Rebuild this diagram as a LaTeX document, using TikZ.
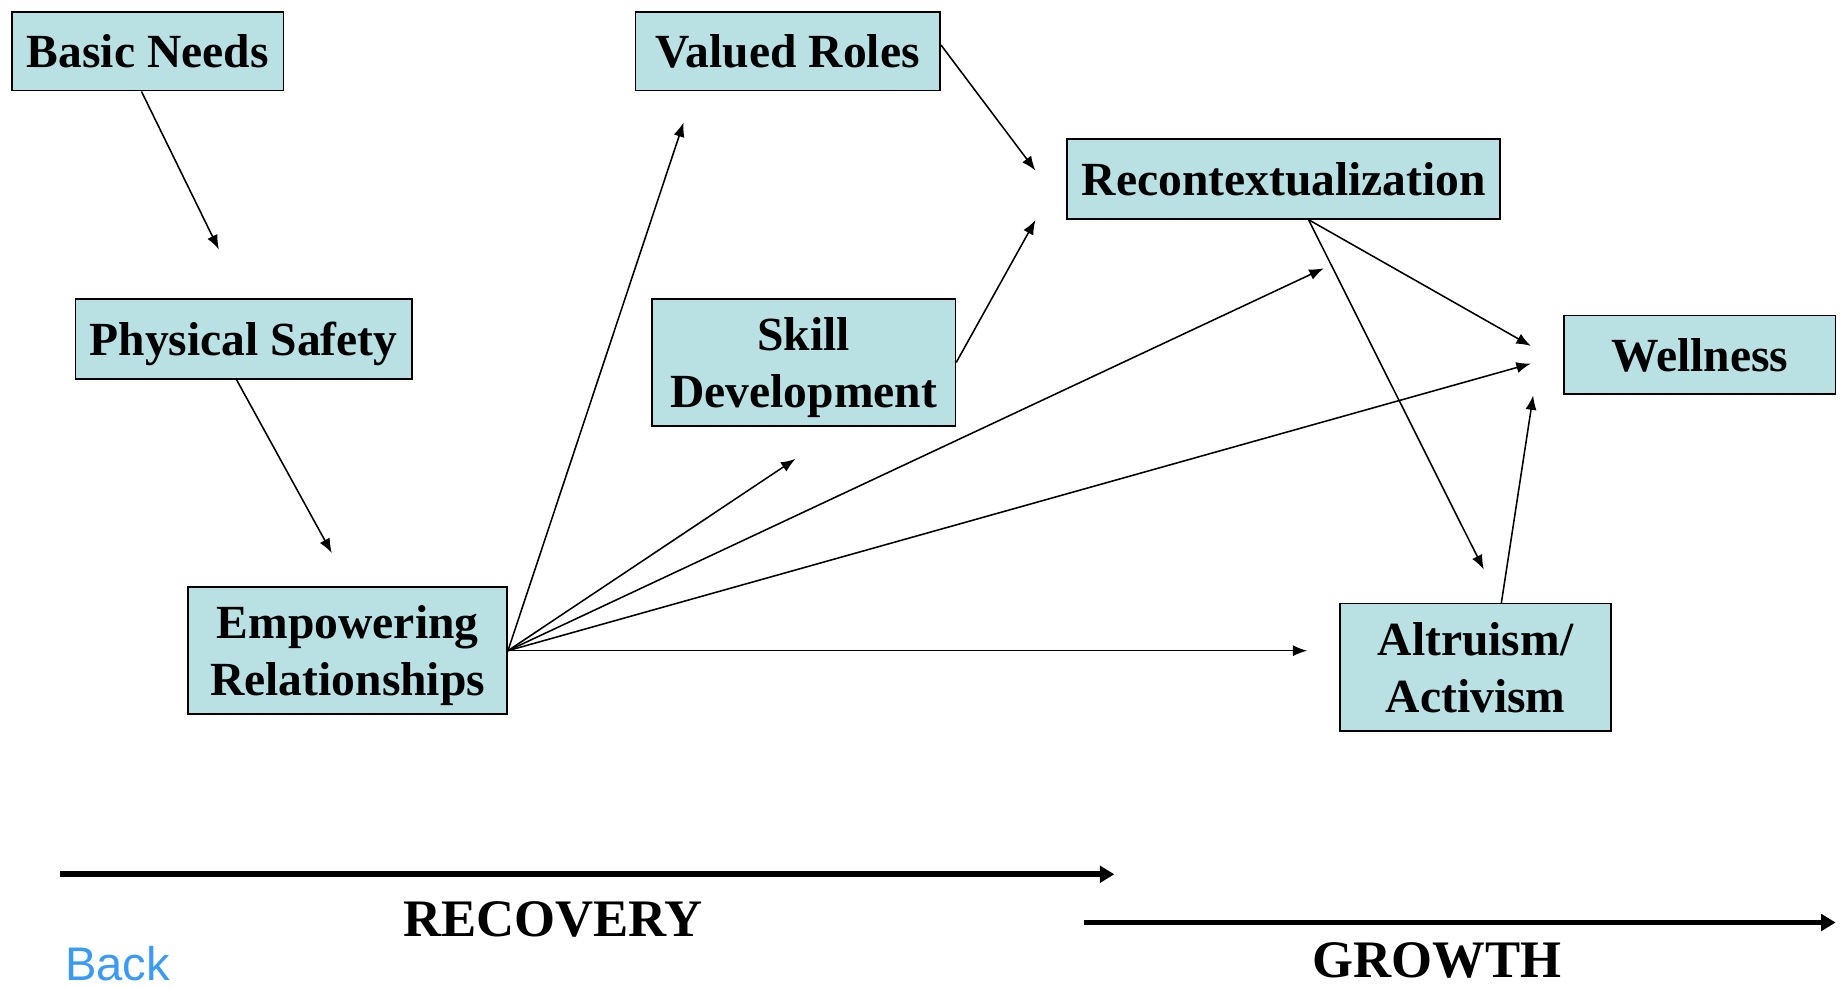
\documentclass[tikz,border=0pt]{standalone}
\usepackage{fontspec}
\setmainfont{Liberation Serif}
\setsansfont{Liberation Sans}
\usetikzlibrary{arrows.meta}
\definecolor{boxfill}{HTML}{B9E0E3}
\definecolor{linkblue}{HTML}{3A9AF5}
\tikzset{
  stage/.style={draw, line width=0.8pt, fill=boxfill, inner sep=0pt, align=center,
    text depth=0pt, font=\fontsize{23}{27.6}\selectfont\bfseries},
  link/.style={-{Latex[length=7pt,width=5.4pt]}, line width=0.75pt},
  phase/.style={-{Triangle[length=7pt,width=8pt]}, line width=2.8pt},
  phaselabel/.style={anchor=base, inner sep=0pt, font=\fontsize{25.5}{30}\selectfont\bfseries},
}
\begin{document}
\begin{tikzpicture}[x=0.02cm,y=-0.02cm]
\useasboundingbox (0,0) rectangle (1568,839);

% boxes
\node[stage, minimum width=4.62cm, minimum height=1.34cm] (needs) at (125.5,43.5) {Basic Needs};
\node[stage, minimum width=5.72cm, minimum height=1.36cm] (safety) at (207,288) {Physical Safety};
\node[stage, minimum width=5.42cm, minimum height=2.16cm] (empower) at (295.5,553) {Empowering\\Relationships};
\node[stage, minimum width=5.18cm, minimum height=1.34cm] (roles) at (669.5,43.5) {Valued Roles};
\node[stage, minimum width=5.16cm, minimum height=2.16cm] (skill) at (683,308) {Skill\\Development};
\node[stage, minimum width=7.36cm, minimum height=1.36cm] (recontext) at (1091,152) {Recontextualization};
\node[stage, minimum width=4.62cm, minimum height=1.34cm] (wellness) at (1444.5,301.5) {Wellness};
\node[stage, minimum width=4.60cm, minimum height=2.16cm] (altruism) at (1254,567) {Altruism/\\Activism};

% arrow tips
\coordinate (safety tip) at (186,212);
\coordinate (empower tip) at (282,470);
\coordinate (roles tip) at (581,104);
\coordinate (skill tip) at (676,390);
\coordinate (recontext tip a) at (880,145);
\coordinate (recontext tip b) at (880,187);
\coordinate (recontext tip c) at (1125,228);
\coordinate (wellness tip a) at (1301,294);
\coordinate (wellness tip b) at (1301,309);
\coordinate (wellness tip c) at (1303,336);
\coordinate (altruism tip a) at (1261,484);
\coordinate (altruism tip b) at (1111,553);

% links
\draw[link] ([xshift=-3pt]needs.south) -- (safety tip);
\draw[link] ([xshift=-3.4pt]safety.south) -- (empower tip);
\draw[link] (empower.east) -- (roles tip);
\draw[link] (empower.east) -- (skill tip);
\draw[link] (empower.east) -- (recontext tip c);
\draw[link] (empower.east) -- (wellness tip b);
\draw[link] (empower.east) -- (altruism tip b);
\draw[link] ([yshift=3pt]roles.east) -- (recontext tip a);
\draw[link] (skill.east) -- (recontext tip b);
\draw[link] ([xshift=12pt]recontext.south) -- (wellness tip a);
\draw[link] ([xshift=12pt]recontext.south) -- (altruism tip a);
\draw[link] ([xshift=12.5pt]altruism.north) -- (wellness tip c);

% phases
\coordinate (recovery start) at (51,743);
\coordinate (recovery end) at (947,743);
\coordinate (growth start) at (921,784);
\coordinate (growth end) at (1560,784);
\draw[phase] (recovery start) -- (recovery end);
\draw[phase] (growth start) -- (growth end);
\node[phaselabel] (recovery) at (470,796) {RECOVERY};
\node[phaselabel] (growth) at (1221,831) {GROWTH};
\node[anchor=base west, inner sep=0pt, text=linkblue, font=\sffamily\fontsize{22.8}{27}\selectfont] (back) at (55,833) {Back};
\end{tikzpicture}
\end{document}
